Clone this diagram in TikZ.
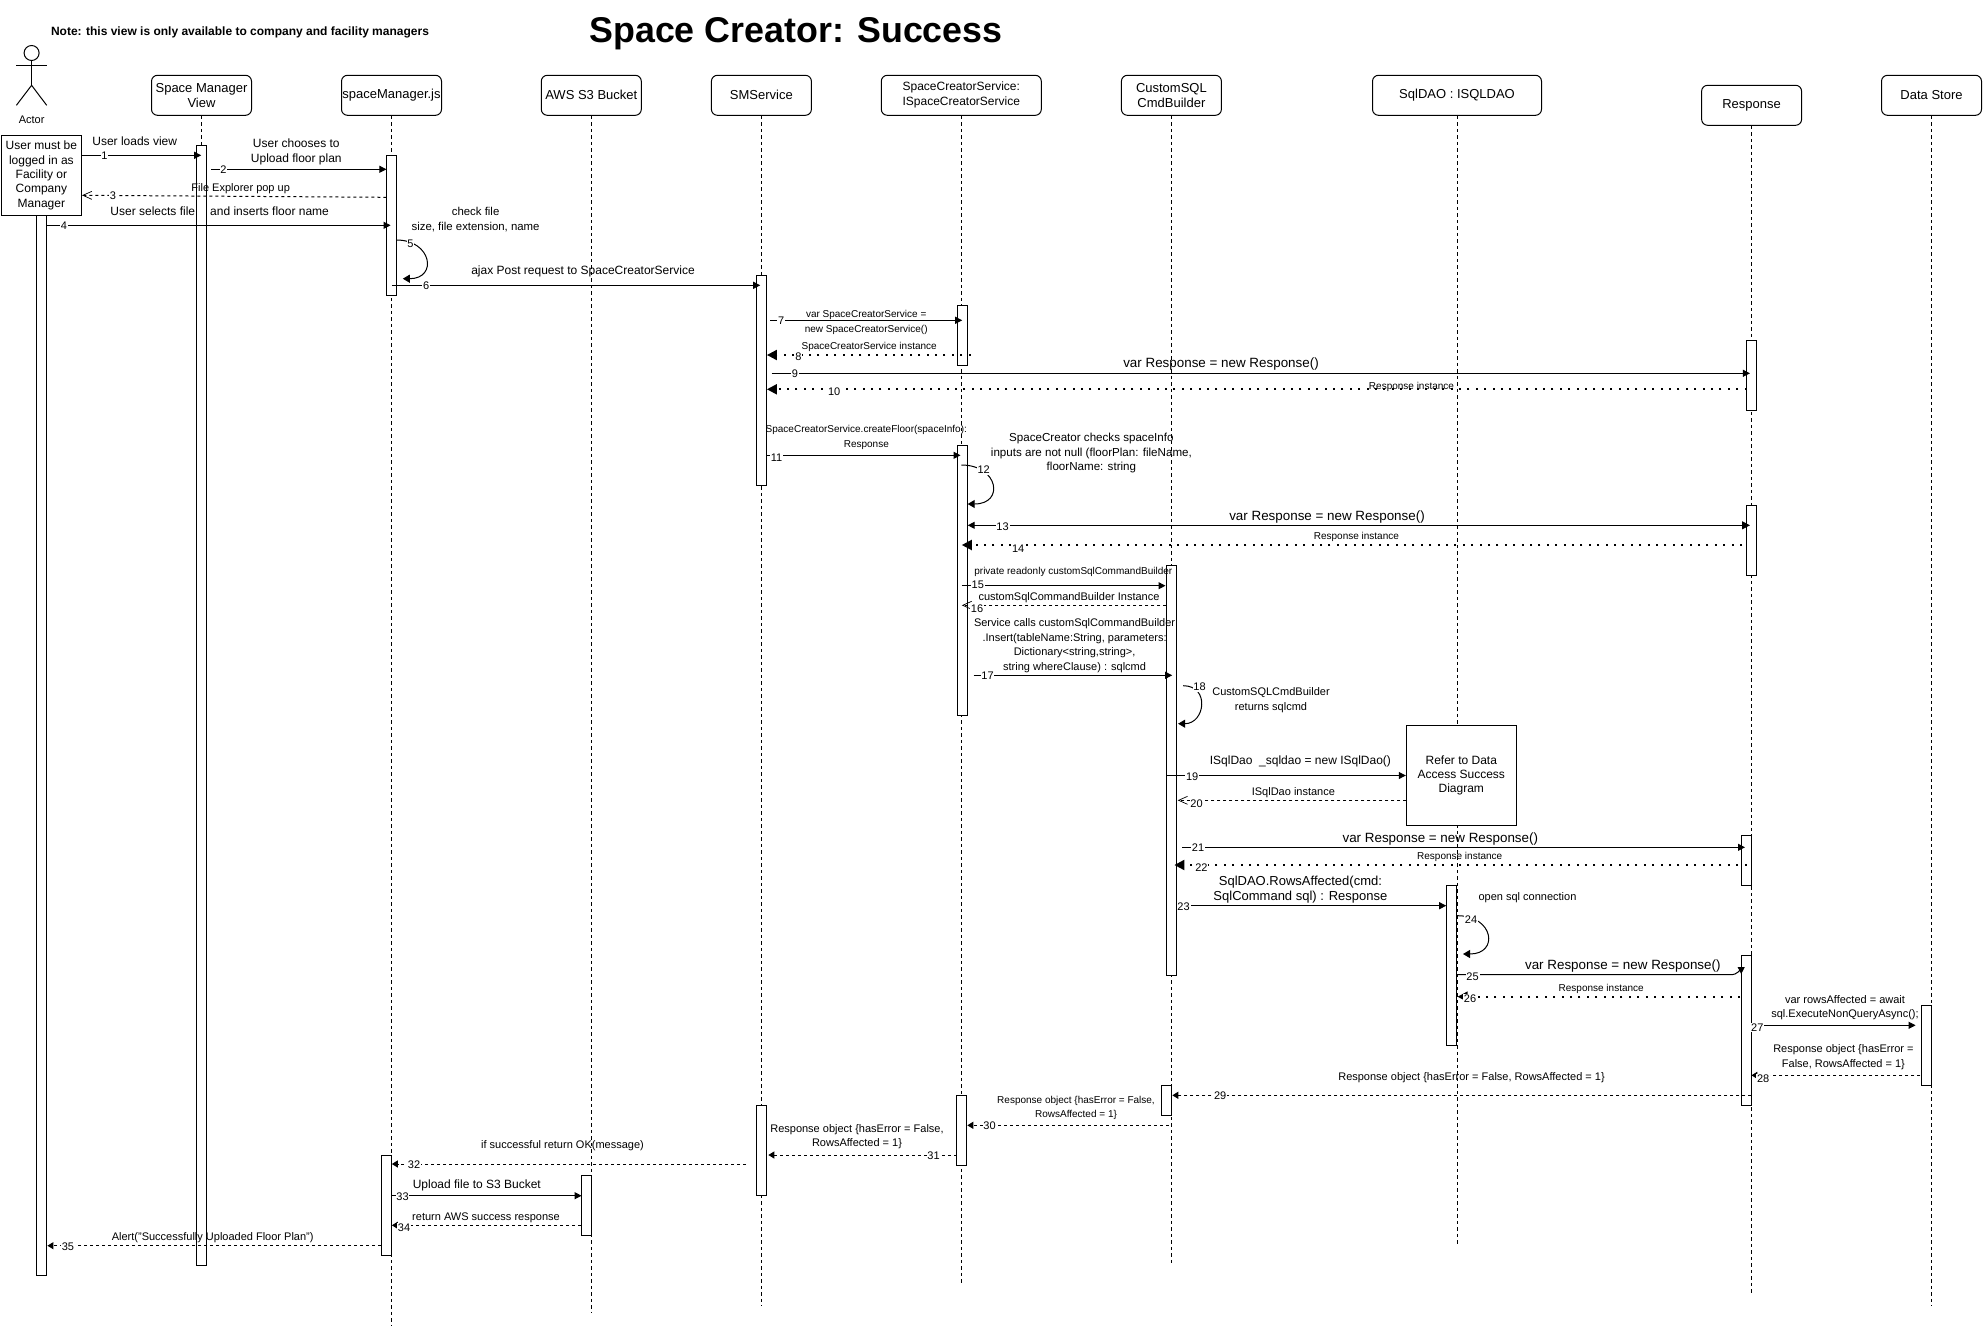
\documentclass[tikz,border=0pt]{standalone}
\usepackage{fontspec}
\setmainfont{Liberation Sans}
\usetikzlibrary{arrows.meta}

\tikzset{
    box/.style={draw,rounded corners=6pt,minimum width=100pt,minimum height=40pt,align=center,inner sep=0pt,font=\fontsize{13}{15}\selectfont},
    note/.style={draw,fill=white,align=center,inner sep=0pt,font=\fontsize{12}{14.4}\selectfont},
    bar/.style={draw,fill=white,anchor=north,minimum width=10pt,inner sep=0pt},
    lifeline/.style={dash pattern=on 3.5pt off 3pt},
    call/.style={-{Triangle[length=7pt,width=7pt]}},
    callboth/.style={{Triangle[length=8pt,width=8pt]}-{Triangle[length=7pt,width=7pt]}},
    reply/.style={dash pattern=on 3pt off 3pt,-{Triangle[length=6pt,width=7pt]}},
    replyopen/.style={dash pattern=on 3pt off 3pt,-{Straight Barb[length=9pt,width=8pt,line width=.7pt]}},
    replydot/.style={line width=2pt,dash pattern=on 2pt off 6.4pt,-{Triangle[length=10pt,width=10pt]}},
    self/.style={out=0,in=0,-{Triangle[length=7pt,width=8pt]}},
    num/.style={fill=white,inner sep=.8pt,yshift=-.6pt,font=\fontsize{11}{13}\selectfont},
    txts/.style={align=center,inner sep=0pt,yshift=-1.2pt,font=\fontsize{10}{14.7}\selectfont},
    txtm/.style={align=center,inner sep=0pt,yshift=-1.2pt,font=\fontsize{11}{14.7}\selectfont},
    txtl/.style={align=center,inner sep=0pt,yshift=-1.2pt,font=\fontsize{12}{15}\selectfont},
    txth/.style={align=center,inner sep=0pt,yshift=-1.2pt,font=\fontsize{13.4}{15}\selectfont},
}

\begin{document}
\begin{tikzpicture}[x=1pt,y=-1pt,line width=1pt]
    \useasboundingbox (0,0) rectangle (1984,1328);

    % titles
    \node[inner sep=0pt,font=\fontsize{35.8}{40}\selectfont\bfseries] (title) at (796,34) {Space Creator: Success};
    \node[inner sep=0pt,font=\fontsize{12}{13}\selectfont\bfseries] (scope) at (240,32) {Note: this view is only available to company and facility managers};

    % actor
    \node[draw,circle,minimum size=15pt,inner sep=0pt] (head) at (31.6,53) {};
    \coordinate (hip) at (31.6,85.3);
    \coordinate (armL) at (16.4,65.3);
    \coordinate (armR) at (46.7,65.3);
    \coordinate (legL) at (16.4,105.3);
    \coordinate (legR) at (46.7,105.3);
    \draw (head) -- (hip);
    \draw (armL) -- (armR);
    \draw (legL) -- (hip) -- (legR);
    \node[txtm] (actor) at (31.6,119) {Actor};

    % participants
    \node[box] (smv) at (201.5,95.3) {Space Manager\\View};
    \node[box] (smjs) at (391.5,95.3) {spaceManager.js};
    \node[box] (aws) at (591.3,95.3) {AWS S3 Bucket};
    \node[box] (sms) at (761.4,95.3) {SMService};
    \node[box,minimum width=160pt,font=\fontsize{12}{15}\selectfont] (scs) at (961.3,95.3) {SpaceCreatorService:\\ISpaceCreatorService};
    \node[box] (csql) at (1171.4,95.3) {CustomSQL\\CmdBuilder};
    \node[box,minimum width=169pt] (dao) at (1457,95.3) {SqlDAO : ISQLDAO};
    \node[box] (resp) at (1751.6,105.3) {Response};
    \node[box] (store) at (1931.5,95.3) {Data Store};

    % lifelines
    \coordinate (smvEnd) at (201.5,1265);
    \coordinate (smjsEnd) at (391.5,1325);
    \coordinate (awsEnd) at (591.3,1313);
    \coordinate (smsEnd) at (761.4,1306);
    \coordinate (scsEnd) at (961.3,1283);
    \coordinate (csqlEnd) at (1171.4,1265);
    \coordinate (daoEnd) at (1457,1246);
    \coordinate (respEnd) at (1751.6,1294);
    \coordinate (storeEnd) at (1931.5,1306);
    \foreach \who in {smv,smjs,aws,sms,scs,csql,dao,resp,store}
        \draw[lifeline] (\who) -- (\who End);

    % activation bars
    \node[bar,minimum height=1060pt] (barActor) at (41.4,215.3) {};
    \node[bar,minimum height=1120pt] (barSmv) at (201.5,145.3) {};
    \node[bar,minimum height=140pt] (barJs1) at (391.5,155.3) {};
    \node[bar,minimum height=100pt] (barJs2) at (386.3,1155.3) {};
    \node[bar,minimum height=60pt] (barAws) at (586.3,1175.3) {};
    \node[bar,minimum height=210pt] (barSms1) at (761.4,275.3) {};
    \node[bar,minimum height=90pt] (barSms2) at (761.4,1105.3) {};
    \node[bar,minimum height=60pt] (barScs1) at (962.6,305.3) {};
    \node[bar,minimum height=270pt] (barScs2) at (962.6,445.3) {};
    \node[bar,minimum height=70pt] (barScs3) at (961.3,1095.3) {};
    \node[bar,minimum height=410pt] (barSql1) at (1171.4,565.3) {};
    \node[bar,minimum height=30pt] (barSql2) at (1166.6,1085.3) {};
    \node[bar,minimum height=160pt] (barDao) at (1451.9,885.3) {};
    \node[bar,minimum height=70pt] (barResp1) at (1751.6,340.3) {};
    \node[bar,minimum height=70pt] (barResp2) at (1751.6,505.3) {};
    \node[bar,minimum height=50pt] (barResp3) at (1746.3,835.3) {};
    \node[bar,minimum height=150pt] (barResp4) at (1746.3,955.3) {};
    \node[bar,minimum height=80pt] (barStore) at (1926.6,1005.3) {};

    % boxes over the lifelines
    \node[note,minimum width=80.3pt,minimum height=80pt] (login) at (41.4,175.3) {User must be\\logged in as\\Facility or\\Company\\Manager};
    \node[note,minimum width=110pt,minimum height=100pt] (refer) at (1461.3,775.3) {Refer to Data\\Access Success\\Diagram};

    % messages
    \coordinate (a1) at (81.6,155.3); \coordinate (b1) at (201.2,155.3);
    \draw[call] (a1) -- (b1);
    \node[num] (n1) at (104.4,155.3) {1};
    \node[txtl] (t1) at (134.7,140) {User loads view};

    \coordinate (a2) at (211.3,169.3); \coordinate (b2) at (386.4,169.3);
    \draw[call] (a2) -- (b2);
    \node[num] (n2) at (223.5,169.3) {2};
    \node[txtl] (t2) at (296.3,150.8) {User chooses to\\Upload floor plan};

    \coordinate (a3) at (386.4,197.3); \coordinate (b3) at (82,195.3);
    \draw[replyopen] (a3) -- (b3);
    \node[num] (n3) at (113,195.5) {3};
    \node[txtm] (t3) at (240.7,187.3) {File Explorer pop up};

    \coordinate (a4) at (46.3,225.3); \coordinate (b4) at (390.6,225.3);
    \draw[call] (a4) -- (b4);
    \node[num] (n4) at (64,225.3) {4};
    \node[txtl] (t4) at (219.7,210) {User selects file\hspace{15pt}and inserts floor name};

    \coordinate (a5) at (396.5,240); \coordinate (b5) at (402.8,278.7);
    \draw[self,looseness=2.3] (a5) to (b5);
    \node[num] (n5) at (410.4,243.3) {5};
    \node[txtm,font=\fontsize{11.4}{15}\selectfont] (t5) at (475.6,218.8) {check file\\size, file extension, name};

    \coordinate (a6) at (391.8,285.3); \coordinate (b6) at (760.2,285.3);
    \draw[call] (a6) -- (b6);
    \node[num] (n6) at (426.3,285.3) {6};
    \node[txtl] (t6) at (583,270) {ajax Post request to SpaceCreatorService};

    \coordinate (a7) at (770.3,320.3); \coordinate (b7) at (962.2,320.3);
    \draw[call] (a7) -- (b7);
    \node[num] (n7) at (781.2,320.3) {7};
    \node[txts] (t7) at (866.2,321.5) {var SpaceCreatorService =\\new SpaceCreatorService()};

    \coordinate (a8) at (970.6,355); \coordinate (b8) at (766.9,355);
    \draw[replydot] (a8) -- (b8);
    \node[num] (n8) at (798.5,356) {8};
    \node[txts] (t8) at (869.2,346) {SpaceCreatorService instance};

    \coordinate (a9) at (771.5,373.3); \coordinate (b9) at (1749.9,373.3);
    \draw[call] (a9) -- (b9);
    \node[num] (n9) at (795,373.3) {9};
    \node[txth] (t9) at (1221,363.3) {var Response = new Response()};

    \coordinate (a10) at (1746.5,389.3); \coordinate (b10) at (766.9,389.3);
    \draw[replydot] (a10) -- (b10);
    \node[num] (n10) at (834.2,391) {10};
    \node[txts] (t10) at (1411.5,386) {Response instance};

    \coordinate (a11) at (766.5,455.3); \coordinate (b11) at (960.5,455.3);
    \draw[call] (a11) -- (b11);
    \node[num] (n11) at (776.6,457) {11};
    \node[txts] (t11) at (866.3,436.3) {SpaceCreatorService.createFloor(spaceInfo):\\Response};
    \node[txtm,font=\fontsize{11.6}{14.7}\selectfont] (t11b) at (1091.4,451.8) {SpaceCreator checks spaceInfo\\inputs are not null (floorPlan: fileName,\\floorName: string};

    \coordinate (a12) at (961.4,465); \coordinate (b12) at (967.7,504);
    \draw[self,looseness=2.4] (a12) to (b12);
    \node[num] (n12) at (983.7,469.3) {12};

    \coordinate (a13) at (1750,525.3); \coordinate (b13) at (967.7,525.3);
    \draw[callboth] (a13) -- (b13);
    \node[num] (n13) at (1002.6,526.3) {13};
    \node[txth] (t13) at (1327,515.7) {var Response = new Response()};

    \coordinate (a14) at (1742,545); \coordinate (b14) at (961.8,545);
    \draw[replydot] (a14) -- (b14);
    \node[num] (n14) at (1018.2,548.3) {14};
    \node[txts] (t14) at (1356.4,535.7) {Response instance};

    \coordinate (a15) at (961.8,585.7); \coordinate (b15) at (1165.5,585.7);
    \draw[call] (a15) -- (b15);
    \node[num] (n15) at (977.8,584.5) {15};
    \node[txts] (t15) at (1073.3,571) {private readonly customSqlCommandBuilder};

    \coordinate (a16) at (1166.4,605.3); \coordinate (b16) at (961.8,605.3);
    \draw[replyopen] (a16) -- (b16);
    \node[num] (n16) at (977,608.3) {16};
    \node[txtm] (t16) at (1069,596.3) {customSqlCommandBuilder Instance};

    \coordinate (a17) at (973.6,675.3); \coordinate (b17) at (1172.2,675.3);
    \draw[call] (a17) -- (b17);
    \node[num] (n17) at (987.5,675.3) {17};
    \node[txtm] (t17) at (1074.6,644.3) {Service calls customSqlCommandBuilder\\.Insert(tableName:String, parameters:\\Dictionary<string,string>,\\string whereClause) : sqlcmd};

    \coordinate (a18) at (1183.2,685.7); \coordinate (b18) at (1178.1,723.7);
    \draw[self,looseness=1.8] (a18) to (b18);
    \node[num] (n18) at (1199.6,686.3) {18};
    \node[txtm] (t18) at (1271,698.8) {CustomSQLCmdBuilder\\returns sqlcmd};

    \coordinate (a19) at (1166.4,775.5);
    \draw[call] (a19) -- (refer.west |- a19);
    \node[num] (n19) at (1192.2,775.7) {19};
    \node[txtl] (t19) at (1300.4,760.3) {ISqlDao\ \ \_sqldao = new ISqlDao()};

    \coordinate (a20) at (1406.4,800.3); \coordinate (b20) at (1177.7,800.3);
    \draw[replyopen] (a20) -- (b20);
    \node[num] (n20) at (1196.5,803.3) {20};
    \node[txtm] (t20) at (1293.4,791.3) {ISqlDao instance};

    \coordinate (a21) at (1182,847.3); \coordinate (b21) at (1745,847.3);
    \draw[call] (a21) -- (b21);
    \node[num] (n21) at (1198,847.3) {21};
    \node[txth] (t21) at (1440.3,837.7) {var Response = new Response()};

    \coordinate (a22) at (1746.6,865); \coordinate (b22) at (1174.4,865);
    \draw[replydot] (a22) -- (b22);
    \node[num] (n22) at (1201.4,867.3) {22};
    \node[txts] (t22) at (1459.7,856) {Response instance};

    \coordinate (a23) at (1177.7,905.7); \coordinate (b23) at (1446.2,905.7);
    \draw[call] (a23) -- (b23);
    \node[num] (n23) at (1183.6,905.7) {23};
    \node[txtl,font=\fontsize{13}{15}\selectfont] (t23) at (1300.4,888.2) {SqlDAO.RowsAffected(cmd:\\SqlCommand sql) : Response};

    \coordinate (a24) at (1457.5,915.7); \coordinate (b24) at (1463,954);
    \draw[self,looseness=2.4] (a24) to (b24);
    \node[num] (n24) at (1471,919.3) {24};
    \node[txtm] (t24) at (1527.5,896.3) {open sql connection};

    \coordinate (a25) at (1457.5,974.7); \coordinate (k25) at (1732,974.7); \coordinate (b25) at (1741.2,974);
    \draw[call] (a25) -- (k25) to[out=0,in=90] (b25);
    \node[num] (n25) at (1472.6,976.3) {25};
    \node[txth] (t25) at (1622.8,964.7) {var Response = new Response()};

    \coordinate (a26) at (1740,996.7); \coordinate (b26) at (1457.5,996.7);
    \draw[replydot] (a26) -- (b26);
    \node[num] (n26) at (1470,998) {26};
    \node[txts] (t26) at (1601.2,988) {Response instance};

    \coordinate (a27) at (1751.4,1025.3); \coordinate (b27) at (1915.6,1025.3);
    \draw[call] (a27) -- (b27);
    \node[num] (n27) at (1757.3,1027) {27};
    \node[txtm] (t27) at (1845,1006.3) {var rowsAffected = await\\sql.ExecuteNonQueryAsync();};

    \coordinate (a28) at (1920.4,1075.3); \coordinate (b28) at (1751.4,1075.3);
    \draw[reply] (a28) -- (b28);
    \node[num] (n28) at (1763.2,1078.3) {28};
    \node[txtm] (t28) at (1843.4,1056.2) {Response object \{hasError =\\False, RowsAffected = 1\}};

    \coordinate (a29) at (1751.4,1095.3); \coordinate (b29) at (1172.3,1095.3);
    \draw[reply] (a29) -- (b29);
    \node[num] (n29) at (1220.2,1095.3) {29};
    \node[txtm] (t29) at (1471.5,1076) {Response object \{hasError = False, RowsAffected = 1\}};

    \coordinate (a30) at (1168.6,1125.3); \coordinate (b30) at (967.3,1125.3);
    \draw[reply] (a30) -- (b30);
    \node[num] (n30) at (989.5,1125.3) {30};
    \node[txts] (t30) at (1076,1106.8) {Response object \{hasError = False,\\RowsAffected = 1\}};

    \coordinate (a31) at (956.6,1155); \coordinate (b31) at (768.3,1155);
    \draw[reply] (a31) -- (b31);
    \node[num] (n31) at (933.6,1155) {31};
    \node[txtm] (t31) at (857,1135.3) {Response object \{hasError = False,\\RowsAffected = 1\}};

    \coordinate (a32) at (746.2,1164); \coordinate (b32) at (391.8,1164);
    \draw[reply] (a32) -- (b32);
    \node[num] (n32) at (414,1164) {32};
    \node[txtm] (t32) at (562.5,1144.3) {if successful return OK(message)};

    \coordinate (a33) at (391,1195.7); \coordinate (b33) at (581.6,1195.7);
    \draw[call] (a33) -- (b33);
    \node[num] (n33) at (402.5,1196) {33};
    \node[txtl] (t33) at (476.8,1184.3) {Upload file to S3 Bucket};

    \coordinate (a34) at (581,1225.3); \coordinate (b34) at (391.8,1225.3);
    \draw[reply] (a34) -- (b34);
    \node[num] (n34) at (404,1226.7) {34};
    \node[txtm] (t34) at (486,1216.7) {return AWS success response};

    \coordinate (a35) at (381,1245.7); \coordinate (b35) at (47.4,1245.7);
    \draw[reply] (a35) -- (b35);
    \node[num] (n35) at (68,1245.7) {35};
    \node[txtm] (t35) at (212.7,1236.3) {Alert("Successfully Uploaded Floor Plan")};
\end{tikzpicture}
\end{document}
